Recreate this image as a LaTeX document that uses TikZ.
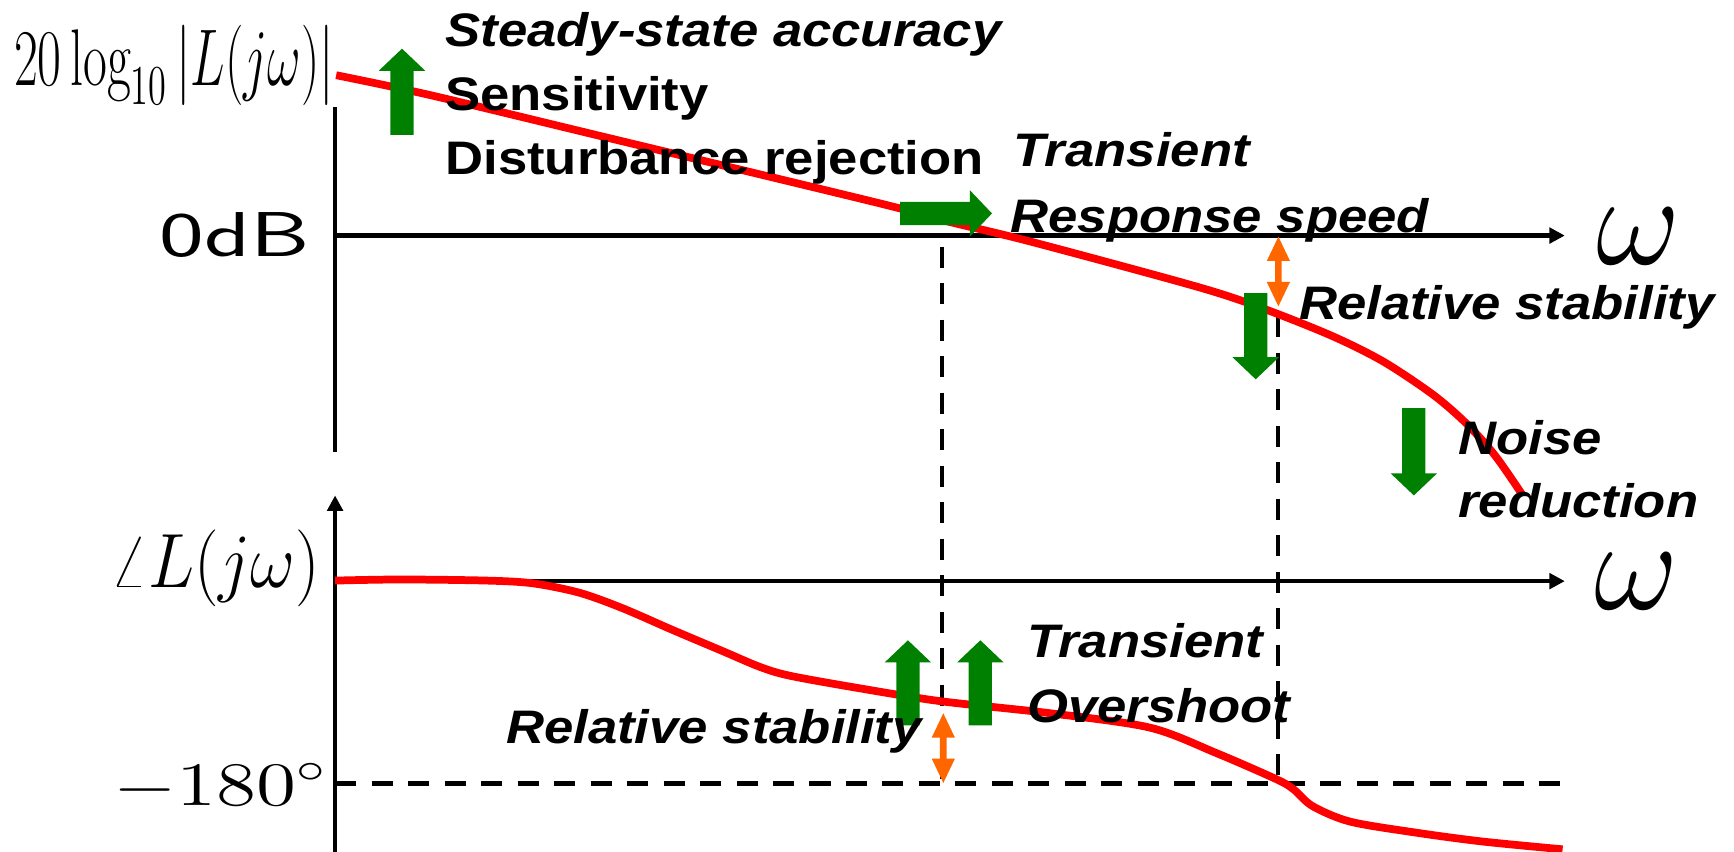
\RequirePackage{fix-cm}
\documentclass[tikz,border=0pt]{standalone}
\usepackage{fontspec}
\usepackage{graphicx}
\usetikzlibrary{arrows.meta}
\newfontfamily\lab[FakeStretch=1.12]{Liberation Sans}
\definecolor{curvered}{RGB}{255,0,0}
\definecolor{arrowgreen}{RGB}{0,128,0}
\definecolor{arroworange}{RGB}{255,102,0}

\tikzset{
  axisline/.style={line width=0.42mm, black},
  axisarrow/.style={axisline, -{Triangle[length=1.4mm,width=1.4mm]}},
  guide/.style={line width=0.4mm, black, dash pattern=on 1.9mm off 1.4mm},
  response/.style={line width=0.7mm, curvered},
  txt/.style={anchor=base west, inner sep=0pt,
    font=\lab\fontsize{12.1pt}{16.2pt}\selectfont\bfseries},
  txti/.style={anchor=base west, inner sep=0pt,
    font=\lab\fontsize{12.1pt}{16.2pt}\selectfont\bfseries\itshape},
  mathlbl/.style={inner sep=0pt},
  % thick green block arrow pointing along +x, length #1
  pics/blockarrow/.style={code={
    \fill[arrowgreen] (0,-10.5) -- (#1-20,-10.5) -- (#1-20,-21) -- (#1,0)
      -- (#1-20,21) -- (#1-20,10.5) -- (0,10.5) -- cycle;}},
  % slim orange double-headed arrow along +x, length #1
  pics/dblarrow/.style={code={
    \fill[arroworange] (0,0) -- (22,-10.5) -- (22,-3) -- (#1-22,-3)
      -- (#1-22,-10.5) -- (#1,0) -- (#1-22,10.5) -- (#1-22,3)
      -- (22,3) -- (22,10.5) -- cycle;}},
}

\begin{document}
\begin{tikzpicture}[x=0.1mm, y=-0.1mm]
\useasboundingbox (0,0) rectangle (1568,770);

% axis end points
\coordinate (magtop) at (303,97);
\coordinate (magbot) at (303,408.6);
\coordinate (zerodb) at (303,213);
\coordinate (magend) at (1415,213);
\coordinate (phbot) at (303,770);
\coordinate (phtop) at (303,448);
\coordinate (phorig) at (303,525.5);
\coordinate (phend) at (1415,525.5);
\coordinate (pmleft) at (303,708.5);
\coordinate (pmright) at (1415,708.5);
% crossover / phase-crossover guides
\coordinate (wcA) at (852,223);
\coordinate (wcB) at (852,708.5);
\coordinate (wpA) at (1155.5,286);
\coordinate (wpB) at (1155.5,708.5);

% dashed guides
\draw[guide] (pmleft) -- (pmright);
\draw[guide] (wcA) -- (wcB);
\draw[guide] (wpA) -- (wpB);

% axes
\draw[axisline] (magtop) -- (magbot);
\draw[axisarrow] (zerodb) -- (magend);
\draw[axisarrow] (phbot) -- (phtop);
\draw[axisarrow] (phorig) -- (phend);

% magnitude curve
\draw[response] plot[smooth, tension=0.5] coordinates {
  (304,68) (389,86) (543,123) (796,184) (856,200) (934,219) (1085,260)
  (1145,280) (1205,304) (1251,327) (1296,357) (1326,383) (1352,412) (1377,448)};

% phase curve
\draw[response] plot[smooth, tension=0.5] coordinates {
  (303,525) (362,524) (440,525) (482,527.5) (524,536) (563,550) (609,570)
  (654,589) (687,603) (714,611) (775,622) (850,634) (950,645) (1040,658)
  (1100,681) (1155,705) (1170,714) (1187,729) (1221,743) (1281,753)
  (1341,761) (1413,768)};

% block arrows
\pic[rotate=90] at (363.5,122) {blockarrow=78};
\pic at (814,193) {blockarrow=83};
\pic[rotate=-90] at (1135.5,265) {blockarrow=78};
\pic[rotate=-90] at (1278.5,369) {blockarrow=79};
\pic[rotate=90] at (821,656) {blockarrow=77};
\pic[rotate=90] at (886.5,656) {blockarrow=77};

% margin arrows
\pic[rotate=-90] at (1156,214) {dblarrow=63};
\pic[rotate=-90] at (853,645) {dblarrow=63};

% axis labels
\node[mathlbl, anchor=base west] (maglabel) at (12,77)
  {\scalebox{0.645}[1]{\fontsize{20.7pt}{24pt}\selectfont$20\log_{10}|L(j\omega)|$}};
\node[mathlbl, anchor=base east] (dblabel) at (281,232)
  {\scalebox{1.5}[1]{\fontsize{16.3pt}{18pt}\selectfont\sffamily 0dB}};
\node[mathlbl, anchor=base east] (phlabel) at (290,531)
  {\scalebox{0.9}[1]{\fontsize{19.8pt}{22pt}\selectfont$\angle L(j\omega)$}};
\node[mathlbl, anchor=base east] (pmlabel) at (297,728)
  {\scalebox{1.32}[1]{\fontsize{15.9pt}{18pt}\selectfont$-180^\circ$}};
\node[mathlbl] (wmag) at (1482,214) {\fontsize{33.5pt}{36pt}\selectfont$\omega$};
\node[mathlbl] (wph) at (1480,526) {\fontsize{33.5pt}{36pt}\selectfont$\omega$};

% annotations
\node[txti] (ssacc) at (402,42) {Steady-state accuracy};
\node[txt] (sens) at (402,99.5) {Sensitivity};
\node[txt] (dist) at (402,158) {Disturbance rejection};
\node[txti] (trtop) at (916,151) {Transient};
\node[txti] (speed) at (913,210) {Response speed};
\node[txti] (gm) at (1174,289) {Relative stability};
\node[txti] (noise) at (1318,468)
  {\begin{tabular}[b]{@{}l@{}}Noise\\reduction\end{tabular}};
\node[txti] (trbot) at (928,595) {Transient};
\node[txti] (over) at (928,653) {Overshoot};
\node[txti] (pm) at (457,672) {Relative stability};
\end{tikzpicture}
\end{document}
